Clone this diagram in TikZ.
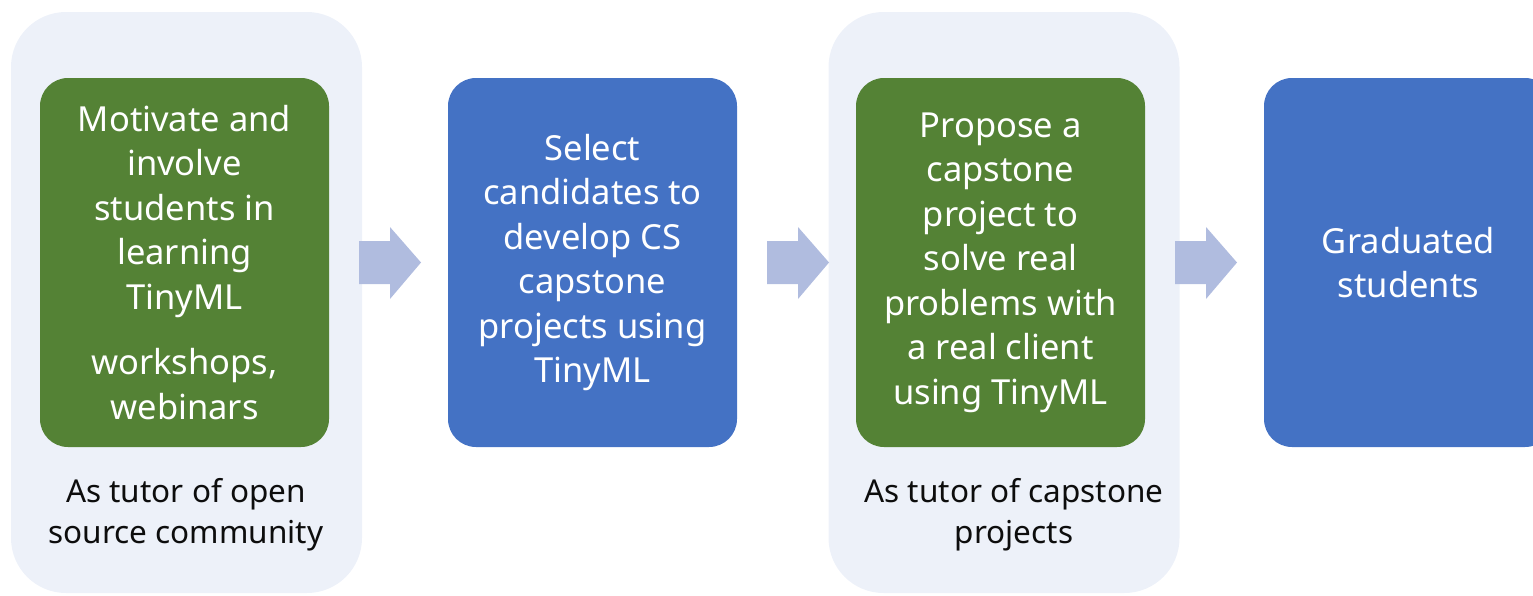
\documentclass[tikz,border=0pt]{standalone}
\usepackage{fontspec}
\setmainfont{Noto Sans}
\definecolor{panelc}{HTML}{EDF1F9}
\definecolor{grn}{HTML}{548235}
\definecolor{blu}{HTML}{4472C4}
\definecolor{arrc}{HTML}{B0BCDF}
\definecolor{lblc}{HTML}{0D0D0D}
\begin{document}
\begin{tikzpicture}[x=1pt,y=-1pt,
  panelbox/.style={fill=panelc, rounded corners=55pt, minimum width=351pt, minimum height=581pt, inner sep=0pt},
  stepbox/.style={rounded corners=28pt, minimum width=289pt, minimum height=369pt, inner sep=0pt, text=white, align=center, font=\fontsize{34.5}{44.5}\selectfont},
  greenbox/.style={stepbox, fill=grn},
  bluebox/.style={stepbox, fill=blu},
  lbl/.style={text=lblc, align=center, font=\fontsize{31.5}{41}\selectfont, inner sep=0pt},
  blockarrow/.style={fill=arrc}]
\useasboundingbox (0,0) rectangle (1533,595);
\clip (0,0) rectangle (1533,595);
\node[panelbox] (p1) at (186.5,302.5) {};
\node[panelbox] (p3) at (1004,302.5) {};
\node[greenbox] (g1) at (184.5,262.5) {Motivate and\\ involve\\ students in\\ learning\\ TinyML\\[21pt] workshops,\\ webinars};
\node[bluebox] (b2) at (592.5,262.5) {Select\\ candidates to\\ develop CS\\ capstone\\ projects using\\ TinyML};
\node[greenbox] (g3) at (1000.5,262.5) {Propose a\\ capstone\\ project to\\ solve real\\ problems with\\ a real client\\ using TinyML};
\node[bluebox] (b4) at (1408.5,262.5) {Graduated\\ students};
\node[lbl] (l1) at (186,515) {As tutor of open\\ source community};
\node[lbl] (l3) at (1014,515) {As tutor of capstone\\ projects};
\foreach \s in {359,767,1175}{
  \fill[blockarrow] (\s,241) -- (\s+31,241) -- (\s+31,227) -- (\s+62,262.5) -- (\s+31,299) -- (\s+31,284) -- (\s,284) -- cycle;
}
\end{tikzpicture}
\end{document}
